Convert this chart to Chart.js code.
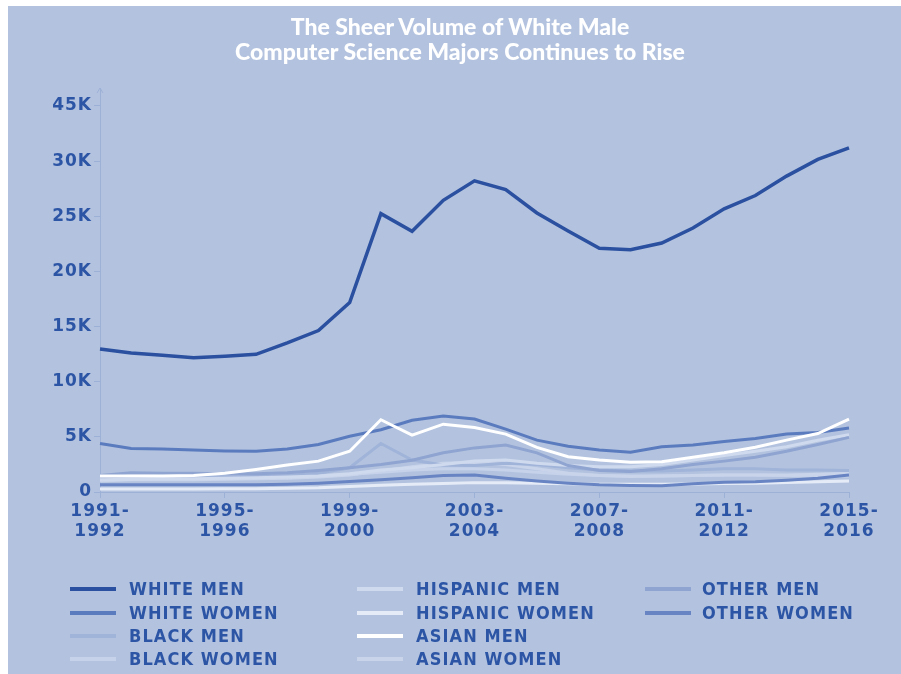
<!DOCTYPE html>
<html>
<head>
<meta charset="utf-8">
<script src="https://cdn.jsdelivr.net/npm/chart.js@4.4.1/dist/chart.umd.min.js"></script>
<style>
  html, body { margin: 0; padding: 0; background: #ffffff; }
  #wrap { position: relative; width: 901px; height: 674px; overflow: hidden; background: #ffffff; }
  #bg { position: absolute; left: 8px; top: 6px; right: 0; bottom: 0; background: #b3c3df; }
  #c { position: absolute; left: 0; top: 0; }
  #title { position: absolute; left: 160px; width: 600px; top: 14px; text-align: center;
           color: #ffffff; font-family: Lato, "Open Sans", sans-serif; font-weight: 900;
           font-size: 23px; line-height: 25px; }
  .lg { position: absolute; height: 20px; }
  .sw { position: absolute; left: 0; top: 8px; width: 46px; height: 4px; }
  .lt { position: absolute; top: 0; white-space: nowrap; color: #2d55a5;
        font-family: "DejaVu Sans Condensed", "DejaVu Sans", sans-serif; font-weight: 700;
        font-size: 18px; line-height: 20px; letter-spacing: 1.1px; }
</style>
</head>
<body>
<div id="wrap">
  <div id="bg"></div>
  <canvas id="c" width="901" height="674"></canvas>
  <div id="title">The Sheer Volume of White Male<br>Computer Science Majors Continues to Rise</div>
  <div id="legend"></div>
</div>
<script>
// ---- data ----
const years = ["1991-1992","1992-1993","1993-1994","1994-1995","1995-1996","1996-1997","1997-1998",
  "1998-1999","1999-2000","2000-2001","2001-2002","2002-2003","2003-2004","2004-2005","2005-2006",
  "2006-2007","2007-2008","2008-2009","2009-2010","2010-2011","2011-2012","2012-2013","2013-2014",
  "2014-2015","2015-2016"];

const yTickValues = [0,5000,10000,15000,20000,25000,30000,35000];
const yTickLabels = ["0","5K","10K","15K","20K","25K","30K","45K"];

const seriesNames = ["WHITE MEN","WHITE WOMEN","BLACK MEN","BLACK WOMEN","HISPANIC MEN",
  "HISPANIC WOMEN","ASIAN MEN","ASIAN WOMEN","OTHER MEN","OTHER WOMEN"];

const whiteMen = [12970,12600,12390,12180,12300,12480,13520,14640,17180,25240,23640,26450,28210,
  27420,25300,23670,22090,21970,22580,23940,25670,26880,28640,30150,31210];
const whiteWomen = [4390,3950,3900,3800,3720,3700,3900,4300,5050,5650,6500,6900,6620,5700,4700,
  4150,3800,3600,4100,4270,4570,4850,5250,5400,5800];
const blackMen = [1300,1400,1400,1400,1350,1400,1500,1700,2200,4400,2900,2450,2400,2600,2500,2200,
  2000,1900,1900,2000,2100,2100,2000,2000,1950];
const blackWomen = [1200,1250,1250,1250,1250,1300,1300,1400,1600,1800,2000,2100,2100,2000,1800,
  1600,1500,1450,1450,1500,1550,1550,1500,1450,1450];
const hispanicMen = [1100,1150,1200,1200,1250,1300,1350,1450,1650,2000,2200,2500,2800,2900,2600,
  2400,2300,2300,2500,2900,3300,3700,4100,4700,5200];
const hispanicWomen = [270,270,270,280,290,300,330,380,500,620,700,780,850,850,800,750,700,700,700,
  720,760,800,850,920,1000];
const asianMen = [1450,1450,1450,1500,1700,2050,2450,2800,3700,6550,5150,6150,5850,5250,4050,3200,
  2900,2700,2750,3150,3550,4050,4700,5300,6600];
const asianWomen = [1000,1100,1100,1100,1150,1200,1250,1350,1550,1900,2300,2600,2700,2500,2100,1700,
  1500,1400,1450,1500,1550,1550,1550,1600,1700];
const otherMen = [1500,1750,1700,1700,1650,1650,1750,1950,2200,2500,2880,3550,4000,4250,3550,2400,
  1950,1850,2100,2500,2800,3150,3700,4300,4950];
const otherWomen = [650,650,650,650,650,650,700,800,950,1100,1300,1500,1550,1250,1000,800,650,580,
  560,750,880,930,1060,1250,1550];

const seriesValues = [whiteMen, whiteWomen, blackMen, blackWomen, hispanicMen, hispanicWomen,
  asianMen, asianWomen, otherMen, otherWomen];

// ---- styles ----
const seriesColors = ["#2b50a0","#5b7bbf","#a0b3d9","#c6d2ea","#d0daee","#e6ecf7",
  "#ffffff","#c9d4eb","#8fa4d0","#6884c3"];
const drawOrder = [0,3,6,9,5,7,1,8,4,2];
const textColor = "#2d55a5";
const axisColor = "#9db0d6";

const datasets = seriesNames.map((name, i) => ({
  label: name,
  data: seriesValues[i],
  borderColor: seriesColors[i],
  backgroundColor: seriesColors[i],
  borderWidth: i === 0 ? 3.5 : 3,
  pointRadius: 0,
  tension: 0,
  fill: false,
  order: drawOrder[i]
}));

const arrowPlugin = {
  id: 'arrow',
  beforeDraw(chart) { chart.ctx.letterSpacing = '1px'; },
  afterDraw(chart) {
    const ctx = chart.ctx, x = chart.chartArea.left, t = chart.chartArea.top;
    ctx.save();
    ctx.strokeStyle = axisColor; ctx.lineWidth = 1;
    ctx.beginPath();
    ctx.moveTo(x - 3, t + 5); ctx.lineTo(x, t); ctx.lineTo(x + 3, t + 5);
    ctx.stroke();
    ctx.restore();
  }
};

new Chart(document.getElementById('c'), {
  type: 'line',
  data: { labels: years, datasets: datasets },
  plugins: [arrowPlugin],
  options: {
    responsive: false,
    animation: false,
    events: [],
    layout: { padding: { left: 0, right: 52, top: 88, bottom: 132 } },
    plugins: { legend: { display: false }, tooltip: { enabled: false }, title: { display: false } },
    scales: {
      x: {
        type: 'category',
        offset: false,
        afterFit(s) { s.height = 50; },
        grid: { display: true, drawOnChartArea: false, drawTicks: true, tickLength: 6, color: axisColor },
        border: { display: true, color: axisColor, width: 1 },
        ticks: {
          autoSkip: false, maxRotation: 0, padding: 3,
          color: textColor,
          font: { family: "'DejaVu Sans', sans-serif", weight: 'bold', size: 17, lineHeight: 1.2 },
          callback(v, i) {
            if (i % 4 !== 0) return null;
            const p = years[i].split('-');
            return [p[0] + '-', p[1]];
          }
        }
      },
      y: {
        min: 0, max: 36630,
        afterFit(s) { s.width = 100; },
        afterBuildTicks(s) { s.ticks = yTickValues.map(v => ({ value: v })); },
        grid: { display: true, drawOnChartArea: false, drawTicks: true, tickLength: 6, color: axisColor },
        border: { display: true, color: axisColor, width: 1 },
        ticks: {
          autoSkip: false, padding: 2,
          color: textColor,
          font: { family: "'DejaVu Sans', sans-serif", weight: 'bold', size: 17 },
          callback(v) { const k = yTickValues.indexOf(v); return k >= 0 ? yTickLabels[k] : null; }
        }
      }
    }
  }
});

// ---- HTML legend (3 columns, column-major) ----
const legendCols = [{ sw: 70, tx: 129 }, { sw: 357, tx: 416 }, { sw: 645, tx: 702 }];
const legendRows = [579, 603, 626, 649];
const lg = document.getElementById('legend');
seriesNames.forEach((name, i) => {
  const col = legendCols[Math.floor(i / 4)], row = legendRows[i % 4];
  const d = document.createElement('div');
  d.className = 'lg';
  d.style.left = col.sw + 'px'; d.style.top = row + 'px';
  d.innerHTML = '<div class="sw" style="background:' + seriesColors[i] + '"></div>' +
    '<div class="lt" style="left:' + (col.tx - col.sw) + 'px">' + name + '</div>';
  lg.appendChild(d);
});
</script>
</body>
</html>
